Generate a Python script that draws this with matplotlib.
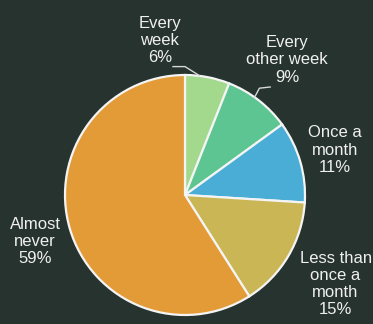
import matplotlib
matplotlib.use("Agg")
import matplotlib.pyplot as plt
import numpy as np

categories = ["Every\nweek", "Every\nother week", "Once a\nmonth", "Less than\nonce a\nmonth", "Almost\nnever"]
values = [6, 9, 11, 15, 59]
colors = ["#a3d98c", "#5cc592", "#4aadd6", "#cab654", "#e39b37"]

# label placement (x, y in data units, pie radius = 1)
label_pos = [(-0.21, 1.29), (0.85, 1.125), (1.25, 0.375), (1.255, -0.74), (-1.25, -0.39)]

bg = "#27332e"
fig = plt.figure(figsize=(3.73, 3.24), dpi=100, facecolor=bg)
ax = fig.add_axes([0, 0, 1, 1], facecolor=bg)

wedges, _ = ax.pie(values, colors=colors, startangle=90, counterclock=False,
                   radius=1.0, center=(0, 0),
                   wedgeprops=dict(edgecolor="#f4f4f4", linewidth=1.6))

for cat, v, (x, y) in zip(categories, values, label_pos):
    ax.text(x, y, f"{cat}\n{v}%", ha="center", va="center", color="#f0f0f0",
            fontsize=12.0, family="Liberation Sans", linespacing=1.18)

# leader lines
lc = "#d8d8d8"
ax.plot([-0.1, 0.0, 0.12], [1.07, 1.07, 0.995], color=lc, lw=1)
ax.plot([0.71, 0.62, 0.58], [0.9, 0.89, 0.815], color=lc, lw=1)

ax.set_xlim(-185 / 120, (373 - 185) / 120)
ax.set_ylim(-129 / 120, 195 / 120)
ax.set_aspect("equal")
ax.axis("off")

fig.savefig("out.png", dpi=100, facecolor=bg)
